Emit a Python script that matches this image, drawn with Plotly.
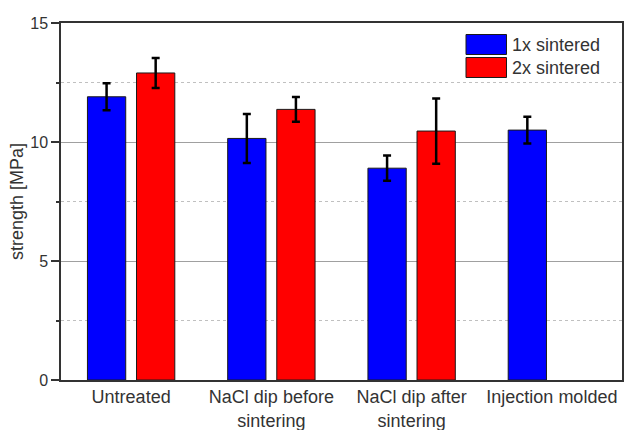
import plotly.graph_objects as go

categories = ["Untreated", "NaCl dip before<br>sintering", "NaCl dip after<br>sintering", "Injection molded"]
series_names = ["1x sintered", "2x sintered"]
values_1x = [11.9, 10.15, 8.9, 10.5]
errors_1x = [0.57, 1.03, 0.53, 0.56]
values_2x = [12.9, 11.37, 10.46, None]
errors_2x = [0.63, 0.52, 1.37, None]
colors = ["#0000ff", "#ff0000"]
y_ticks = [0, 5, 10, 15]

fig = go.Figure()
for name, vals, errs, col in [(series_names[0], values_1x, errors_1x, colors[0]),
                              (series_names[1], values_2x, errors_2x, colors[1])]:
    fig.add_trace(go.Bar(
        x=categories, y=vals, name=name, showlegend=False,
        marker=dict(color=col, line=dict(color="#1a1a1a", width=1)),
        error_y=dict(type="data", array=errs, visible=True, color="black", thickness=2.5, width=4),
    ))

# legend drawn as boxes + text in paper coordinates
W, H = 624, 430
ml, mr, mt, mb = 61, 2, 23, 50
pw, ph = W - ml - mr, H - mt - mb
def px_x(x):
    return (x - ml) / pw
def px_y(y):
    return 1 - (y - mt) / ph
boxes = [(34.5, 54.5), (57.5, 77.5)]
for (y0, y1), col, name in zip(boxes, colors, series_names):
    fig.add_shape(type="rect", xref="paper", yref="paper",
                  x0=px_x(466), x1=px_x(506.5), y0=px_y(y1), y1=px_y(y0),
                  fillcolor=col, line=dict(color="#1a1a1a", width=1))
    fig.add_annotation(xref="paper", yref="paper", x=px_x(510), y=px_y((y0 + y1) / 2),
                       text=name, showarrow=False, xanchor="left", yanchor="middle",
                       font=dict(size=18, color="#333333"))

fig.update_layout(
    width=W, height=H,
    margin=dict(l=ml, r=mr, t=mt, b=mb, autoexpand=False),
    paper_bgcolor="white", plot_bgcolor="white",
    barmode="group", bargap=0.3, bargroupgap=0.22,
    font=dict(family="Liberation Sans, Arial, sans-serif", size=16, color="#333333"),
    xaxis=dict(showline=True, linecolor="#333333", linewidth=1.5, mirror=True,
               ticks="", showgrid=False, tickfont=dict(size=18), range=[-0.5, 3.5],
               automargin=False),
    yaxis=dict(range=[0, 15], tickvals=y_ticks, showline=True, linecolor="#333333", linewidth=1.5,
               mirror=True, ticks="outside", ticklen=8, tickcolor="#333333", tickwidth=1.5,
               showgrid=True, gridcolor="#a0a0a0", gridwidth=1, zeroline=False,
               title=dict(text="strength [MPa]", font=dict(size=18), standoff=2),
               tickfont=dict(size=16), automargin=False,
               minor=dict(tickvals=[2.5, 7.5, 12.5], ticks="outside", ticklen=3, tickcolor="#333333",
                          showgrid=True, gridcolor="#c0c0c0", griddash="dot", gridwidth=1)),
)
fig.write_html("out.html", config={"displayModeBar": False},
               post_script="document.body.style.margin='0';document.body.style.overflow='hidden';")
